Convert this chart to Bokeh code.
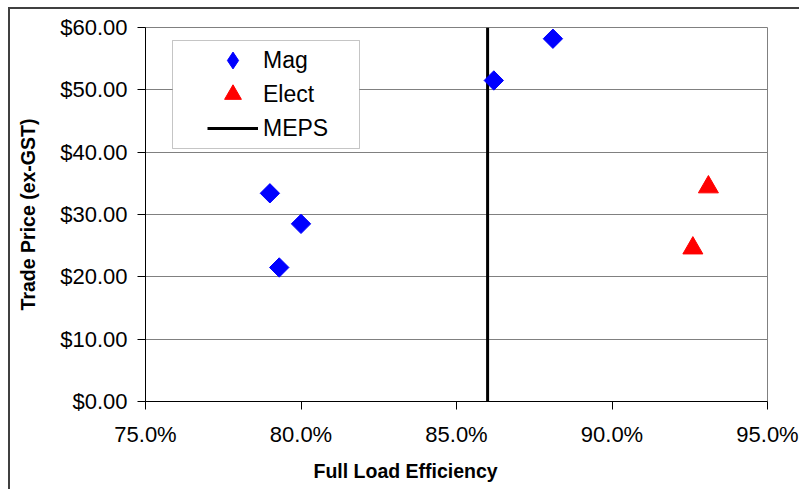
import math
from bokeh.plotting import figure
from bokeh.models import (Range1d, FixedTicker, NumeralTickFormatter, Legend,
                          LegendItem, Title, BoxAnnotation, Label)
from bokeh.embed import file_html
from bokeh.resources import INLINE

# ---- data ----
mag_eff = [0.790, 0.793, 0.800, 0.862, 0.881]
mag_price = [33.4, 21.5, 28.5, 51.5, 58.2]
elect_eff = [0.926, 0.931]
elect_price = [24.6, 34.4]
meps_eff = [0.86, 0.86]
meps_price = [0, 60]
x_ticks = [0.75, 0.80, 0.85, 0.90, 0.95]
y_ticks = [0, 10, 20, 30, 40, 50, 60]

FONT = "Liberation Sans"

p = figure(width=799, height=489, output_backend="svg", toolbar_location=None,
           x_range=Range1d(0.75, 0.95), y_range=Range1d(0, 60),
           min_border_left=145, min_border_right=32, min_border_top=27,
           min_border_bottom=88)
p.border_fill_color = "white"
p.background_fill_color = "white"
p.outline_line_color = "#808080"
p.outline_line_width = 1
# outer chart border: only its left and top edges fall inside the window
p.stylesheets = [":host::after { content: ''; position: absolute; left: 8px; "
                 "top: 7px; right: 0; bottom: 0; border-left: 2px solid #404040; "
                 "border-top: 2px solid #404040; pointer-events: none; }"]

r_meps = p.line(meps_eff, meps_price, line_color="black", line_width=3)
# diamond-shaped key for the legend (hidden beneath the rotated squares)
r_mag_key = p.scatter(mag_eff, mag_price, marker="diamond", size=8,
                      fill_color="#0000FF", line_color="#0000FF")
r_mag = p.scatter(mag_eff, mag_price, marker="square", angle=math.pi / 4,
                  size=13.7, fill_color="#0000FF", line_color="#0000FF")
r_el = p.scatter(elect_eff, elect_price, marker="triangle", size=20,
                 fill_color="#FF0000", line_color="#FF0000")

# axes
p.xaxis.ticker = FixedTicker(ticks=x_ticks)
p.yaxis.ticker = FixedTicker(ticks=y_ticks)
p.xaxis.formatter = NumeralTickFormatter(format="0.0%")
p.yaxis.formatter = NumeralTickFormatter(format="$0.00")
for ax in (p.xaxis, p.yaxis):
    ax.major_label_text_font = FONT
    ax.major_label_text_font_size = "22px"
    ax.major_label_text_color = "black"
    ax.axis_line_color = "black"
    ax.axis_line_width = 1
    ax.major_tick_line_color = "black"
    ax.major_tick_out = 8
    ax.major_tick_in = 0
    ax.minor_tick_line_color = None
p.xaxis.major_label_standoff = 12
p.yaxis.major_label_standoff = 10

p.yaxis.axis_label = "Trade Price (ex-GST)"
p.yaxis.axis_label_text_font = FONT
p.yaxis.axis_label_text_font_size = "19.5px"
p.yaxis.axis_label_text_font_style = "bold"
p.yaxis.axis_label_text_color = "black"
p.yaxis.axis_label_standoff = 18

p.add_layout(Title(text="Full Load Efficiency", align="left", offset=168,
                   text_font=FONT, text_font_size="19.5px",
                   text_font_style="bold", text_color="black", standoff=16),
             "below")

p.xgrid.visible = False
p.ygrid.grid_line_color = "#808080"
p.ygrid.grid_line_width = 1

# outer chart border drawn on the canvas as well
p.add_layout(Label(x=8, y=7, x_units="canvas", y_units="canvas", text=" ",
                   text_font_size="1px", anchor="top_left",
                   padding=dict(left=0, top=0, right=900, bottom=900),
                   border_line_color="#404040", border_line_width=2,
                   background_fill_color=None))

# legend frame
p.add_layout(BoxAnnotation(left=172, right=359, top=40, bottom=148,
                           left_units="canvas", right_units="canvas",
                           top_units="canvas", bottom_units="canvas",
                           fill_color="white", fill_alpha=1,
                           line_color="#404040", line_width=1, level="overlay"))

common = dict(padding=0, spacing=0, margin=0, glyph_width=51, glyph_height=42,
              label_height=34, label_standoff=5, label_text_font=FONT,
              label_text_font_size="23px", label_text_color="black",
              border_line_alpha=0, background_fill_alpha=0)
p.add_layout(Legend(items=[LegendItem(label="Mag", renderers=[r_mag_key])],
                    location=(62, 320), **common))
p.add_layout(Legend(items=[LegendItem(label="Elect", renderers=[r_el])],
                    location=(62, 286), **common))
p.add_layout(Legend(items=[LegendItem(label="MEPS", renderers=[r_meps])],
                    location=(62, 252), **common))

open("out.html", "w").write(file_html(p, INLINE))
